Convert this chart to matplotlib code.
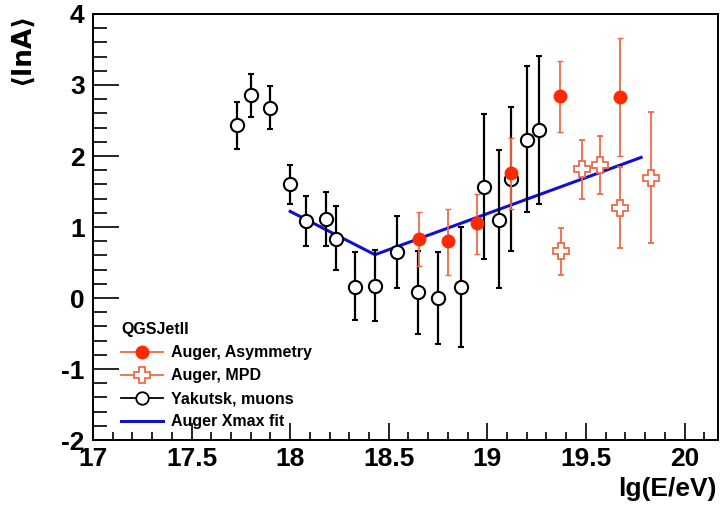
import matplotlib
matplotlib.use("Agg")
import matplotlib.pyplot as plt
from matplotlib.lines import Line2D
from matplotlib.ticker import MultipleLocator

plt.rcParams['font.family'] = ['Liberation Sans', 'DejaVu Sans']
plt.rcParams['font.weight'] = 'bold'
plt.rcParams['axes.unicode_minus'] = False

# Yakutsk, muons
yak_x = [17.73, 17.80, 17.90, 18.00, 18.08, 18.18, 18.23, 18.33, 18.43, 18.54,
         18.65, 18.75, 18.865, 18.985, 19.06, 19.12, 19.20, 19.26]
yak_y = [2.43, 2.86, 2.68, 1.61, 1.08, 1.11, 0.83, 0.16, 0.17, 0.65,
         0.08, 0.00, 0.16, 1.57, 1.10, 1.67, 2.23, 2.36]
yak_up = [0.33, 0.30, 0.30, 0.27, 0.35, 0.38, 0.46, 0.49, 0.50, 0.51,
          0.58, 0.65, 0.84, 1.02, 0.98, 1.02, 1.04, 1.05]
yak_lo = [0.33, 0.31, 0.30, 0.28, 0.35, 0.38, 0.44, 0.47, 0.49, 0.51,
          0.59, 0.65, 0.85, 1.02, 0.96, 1.01, 1.02, 1.04]

# Auger, Asymmetry
asy_x = [18.655, 18.80, 18.95, 19.12, 19.37, 19.675]
asy_y = [0.83, 0.80, 1.05, 1.76, 2.845, 2.83]
asy_up = [0.38, 0.46, 0.42, 0.49, 0.50, 0.83]
asy_lo = [0.38, 0.47, 0.43, 0.50, 0.50, 0.83]

# Auger, MPD
mpd_x = [19.375, 19.48, 19.57, 19.675, 19.83]
mpd_y = [0.66, 1.81, 1.88, 1.27, 1.69]
mpd_up = [0.33, 0.42, 0.40, 0.57, 0.93]
mpd_lo = [0.34, 0.42, 0.42, 0.57, 0.92]

# Auger Xmax fit (broken line)
fit_x = [18.0, 18.43, 19.78]
fit_y = [1.22, 0.61, 1.98]

red = '#ff2a00'
orange = '#ee6a46'

fig = plt.figure(figsize=(7.22, 5.07), dpi=100)
ax = fig.add_axes([0.1288, 0.1321, 0.8657, 0.8403])

ax.plot(fit_x, fit_y, color='#1010d0', lw=2.2, zorder=3)

ax.errorbar(yak_x, yak_y, yerr=[yak_lo, yak_up], fmt='o', color='black',
            mfc='white', mec='black', ms=9.5, mew=1.5, ecolor='black',
            elinewidth=1.6, capsize=2, capthick=1.6, zorder=4)
ax.errorbar(mpd_x, mpd_y, yerr=[mpd_lo, mpd_up], fmt='P', color=orange,
            mfc='white', mec=orange, ms=11, mew=1.3, ecolor=orange,
            elinewidth=1.3, capsize=2, capthick=1.3, zorder=5)
ax.errorbar(asy_x, asy_y, yerr=[asy_lo, asy_up], fmt='o', color=red,
            mfc=red, mec=red, ms=9, mew=1, ecolor=orange,
            elinewidth=1.3, capsize=2, capthick=1.3, zorder=6)

ax.set_xlim(17.0, 20.17)
ax.set_ylim(-2, 4)
ax.xaxis.set_major_locator(MultipleLocator(0.5))
ax.xaxis.set_minor_locator(MultipleLocator(0.1))
ax.yaxis.set_major_locator(MultipleLocator(1))
ax.yaxis.set_minor_locator(MultipleLocator(0.2))
ax.tick_params(which='both', direction='in', top=False, right=False, width=1.2)
ax.tick_params(axis='y', which='major', length=19, labelsize=19, pad=6)
ax.tick_params(axis='y', which='minor', length=10)
ax.tick_params(axis='x', which='major', length=12, labelsize=19, pad=5)
ax.tick_params(axis='x', which='minor', length=6)
ax.set_xticks([17, 17.5, 18, 18.5, 19, 19.5, 20])
ax.set_xticklabels(['17', '17.5', '18', '18.5', '19', '19.5', '20'])
for lab in ax.get_xticklabels() + ax.get_yticklabels():
    lab.set_fontweight('bold')
for s in ax.spines.values():
    s.set_linewidth(1.4)

fig.text(0.993, 0.012, 'lg(E/eV)', ha='right', va='bottom', fontsize=19,
         fontweight='bold')
fig.text(0.012, 0.975, '\u27e8lnA\u27e9', ha='left', va='top', rotation=90,
         fontsize=19, fontweight='bold',
         family=['DejaVu Sans', 'Liberation Sans'])

handles = [
    Line2D([], [], color=orange, lw=1.3, marker='o', ms=9, mfc=red, mec=red),
    Line2D([], [], color=orange, lw=1.3, marker='P', ms=11, mfc='white', mec=orange, mew=1.3),
    Line2D([], [], color='black', lw=1.3, marker='o', ms=9, mfc='white', mec='black', mew=1.3),
    Line2D([], [], color='#1010d0', lw=2.2),
]
labels = ['Auger, Asymmetry', 'Auger, MPD', 'Yakutsk, muons', 'Auger Xmax fit']
leg = ax.legend(handles, labels, title='QGSJetII', loc='lower left',
                bbox_to_anchor=(0.035, 0.01), frameon=False, fontsize=11.5,
                title_fontproperties={'weight': 'bold', 'size': 11.5},
                handlelength=2.6, handletextpad=0.5, labelspacing=0.5,
                borderaxespad=0.0)
leg._legend_box.align = 'left'
for t in leg.get_texts():
    t.set_fontweight('bold')

fig.savefig('out.png', dpi=100)
